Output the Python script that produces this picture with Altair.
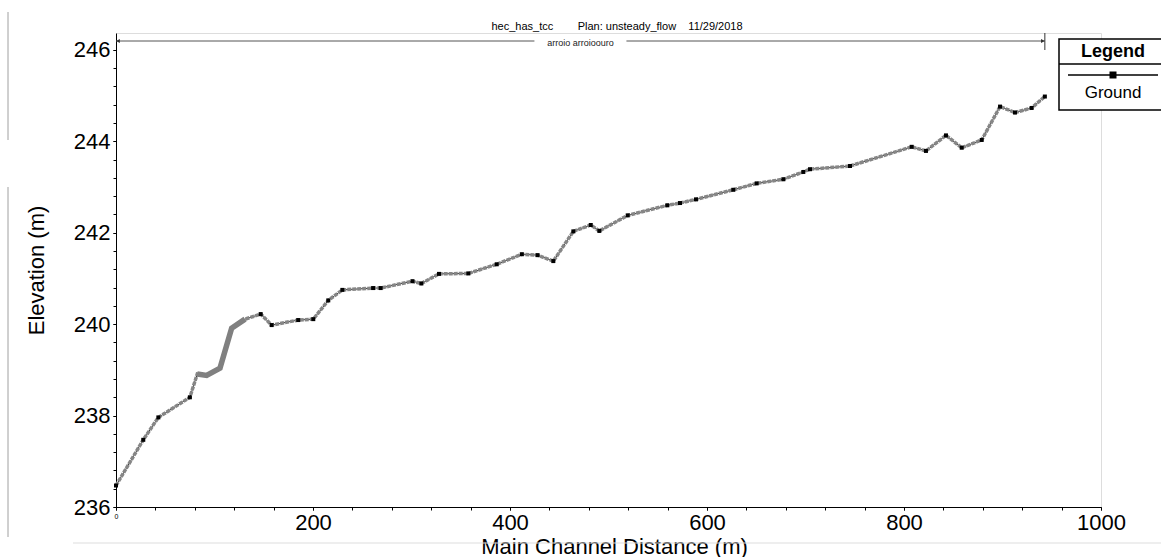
import altair as alt
import pandas as pd

# ---- data ----
distance = [0, 27.7, 43, 75, 82.5, 92, 105.6, 117.4, 131, 146.9, 158, 185, 200.3,
            215.5, 229.8, 261, 268.7, 301, 310, 327.9, 357.7, 386.5, 412, 428, 444,
            464.3, 482, 490.7, 519.5, 559.7, 572.6, 588.8, 626.7, 650.4, 677.5, 697.8,
            704.6, 745.2, 807.8, 822.3, 842.6, 858.6, 878.9, 897.5, 912.7, 929.6, 943]
elevation = [236.47, 237.47, 237.96, 238.40, 238.91, 238.88, 239.04, 239.91, 240.11,
             240.22, 239.98, 240.09, 240.11, 240.52, 240.75, 240.79, 240.79, 240.94,
             240.89, 241.10, 241.11, 241.31, 241.53, 241.51, 241.38, 242.03, 242.17,
             242.04, 242.38, 242.60, 242.65, 242.73, 242.94, 243.08, 243.17, 243.33,
             243.39, 243.46, 243.88, 243.79, 244.13, 243.86, 244.03, 244.76, 244.63,
             244.73, 244.98]
is_section = [1, 1, 1, 1, 0, 0, 0, 0, 0, 1, 1, 1, 1, 1, 1, 1, 1, 1, 1, 1, 1, 1, 1, 1, 1,
              1, 1, 1, 1, 1, 1, 1, 1, 1, 1, 1, 1, 1, 1, 1, 1, 1, 1, 1, 1, 1, 1]

x_major = [0, 200, 400, 600, 800, 1000]
y_major = [236, 238, 240, 242, 244, 246]
x_minor = [v * 40 for v in range(26)]
y_minor = [round(236 + v * 0.4, 1) for v in range(26)]

title_text = "hec_has_tcc\u00a0\u00a0\u00a0\u00a0\u00a0\u00a0\u00a0\u00a0Plan:\u00a0unsteady_flow\u00a0\u00a0\u00a0\u00a011/29/2018"
reach_label = "arroio arroioouro"
legend_title = "Legend"
series_name = "Ground"

FONT = "Liberation Sans"
W, H = 985, 474

df = pd.DataFrame({"distance": distance, "elevation": elevation, "section": is_section})
reach = pd.DataFrame({"start": [distance[0]], "end": [distance[-1]],
                      "mid": [(distance[0] + distance[-1]) / 2]})

xscale = alt.Scale(domain=[0, 1000], nice=False, zero=False)
yscale = alt.Scale(domain=[236, 246.37], nice=False, zero=False)

# major axes: labels + titles
x_axis_major = alt.Axis(
    orient="bottom", values=x_major, grid=False, tickSize=3, tickColor="black",
    domainColor="black", format="d",
    labelFontSize={"condition": {"test": "datum.value == 0", "value": 7}, "value": 22},
    labelFont=FONT, labelColor="black", labelPadding=2, labelFlush=False,
    labelOverlap=False,
    title="Main Channel Distance (m)", titleFont=FONT, titleFontSize=22,
    titleFontWeight="normal", titleColor="black", titleX=498, titleY=39,
    titleBaseline="middle",
)
y_axis_major = alt.Axis(
    orient="left", values=y_major, grid=False, tickSize=3, tickColor="black",
    domainColor="black", format="d",
    labelFontSize=22, labelFont=FONT, labelColor="black", labelPadding=3,
    labelFlush=False, labelOverlap=False,
    title="Elevation (m)", titleFont=FONT, titleFontSize=22, titleFontWeight="normal",
    titleColor="black", titleX=-80, titleY=237, titleBaseline="middle",
)
# minor tick axes: ticks only
x_axis_minor = alt.Axis(orient="bottom", values=x_minor, grid=False, tickSize=3,
                        tickColor="black", domain=False, labels=False, title=None)
y_axis_minor = alt.Axis(orient="left", values=y_minor, grid=False, tickSize=3,
                        tickColor="black", domain=False, labels=False, title=None)

base = alt.Chart(df)

thin = base.mark_line(color="#333333", strokeWidth=1).encode(
    x=alt.X("distance:Q", scale=xscale, axis=x_axis_major),
    y=alt.Y("elevation:Q", scale=yscale, axis=y_axis_major))
gray = base.mark_line(color="#868686", strokeWidth=3.5, strokeDash=[4, 1]).encode(
    x=alt.X("distance:Q", scale=xscale, axis=x_axis_minor),
    y=alt.Y("elevation:Q", scale=yscale, axis=y_axis_minor))
thick = base.transform_filter("datum.distance >= 82 && datum.distance <= 132").mark_line(
    color="#808080", strokeWidth=5.5).encode(
    x=alt.X("distance:Q", axis=None), y=alt.Y("elevation:Q", axis=None))
marks = base.transform_filter("datum.section == 1").mark_square(
    size=16, color="black", opacity=1).encode(
    x=alt.X("distance:Q", axis=None), y=alt.Y("elevation:Q", axis=None))

rb = alt.Chart(reach)
rule_left = rb.mark_rule(color="#555555", strokeWidth=1, x2Offset=-46).encode(
    x=alt.X("start:Q", axis=None), x2="mid:Q", y=alt.value(8))
rule_right = rb.mark_rule(color="#555555", strokeWidth=1, xOffset=46).encode(
    x=alt.X("mid:Q", axis=None), x2="end:Q", y=alt.value(8))
arrow_l = rb.mark_point(shape="triangle-left", filled=True, size=18, color="#333333",
                        xOffset=2, opacity=1).encode(
    x=alt.X("start:Q", axis=None), y=alt.value(8))
arrow_r = rb.mark_point(shape="triangle-right", filled=True, size=18, color="#333333",
                        xOffset=-2, opacity=1).encode(
    x=alt.X("end:Q", axis=None), y=alt.value(8))
end_tick = rb.mark_rule(color="#333333", strokeWidth=1).encode(
    x=alt.X("end:Q", axis=None), y=alt.value(0), y2=alt.value(17))
reach_txt = rb.mark_text(text=reach_label, font=FONT, fontSize=9, color="#222222",
                         baseline="middle").encode(
    x=alt.X("mid:Q", axis=None), y=alt.value(10))

# header text and legend box (pixel placed decorations)
leg = alt.Chart(pd.DataFrame({"t": [legend_title], "s": [series_name], "h": [title_text]}))
header = leg.mark_text(font=FONT, fontSize=11, color="black", baseline="middle").encode(
    text="h:N", x=alt.value(501), y=alt.value(-6))
leg_box = leg.mark_rect(fill="white", stroke="black", strokeWidth=1.5).encode(
    x=alt.value(943), x2=alt.value(1052), y=alt.value(6), y2=alt.value(77))
leg_sep = leg.mark_rule(color="black", strokeWidth=1.5).encode(
    x=alt.value(943), x2=alt.value(1052), y=alt.value(31))
leg_line = leg.mark_rule(color="black", strokeWidth=1.5).encode(
    x=alt.value(952), x2=alt.value(1042), y=alt.value(42))
leg_sym = leg.mark_square(size=49, color="black", opacity=1).encode(
    x=alt.value(997), y=alt.value(42))
leg_title = leg.mark_text(font=FONT, fontSize=18, fontWeight="bold", color="black",
                          baseline="middle").encode(
    text="t:N", x=alt.value(997), y=alt.value(19))
leg_label = leg.mark_text(font=FONT, fontSize=17, color="black", baseline="middle").encode(
    text="s:N", x=alt.value(997), y=alt.value(60))

# frame lines visible in the reference screenshot
frame_v1 = leg.mark_rule(color="#a0a0a0", strokeWidth=1).encode(
    x=alt.value(-108), y=alt.value(-21), y2=alt.value(107))
frame_v2 = leg.mark_rule(color="#a0a0a0", strokeWidth=1).encode(
    x=alt.value(-108), y=alt.value(154), y2=alt.value(504))
frame_h = leg.mark_rule(color="#dddddd", strokeWidth=1).encode(
    x=alt.value(-43), x2=alt.value(1045), y=alt.value(510))

chart = alt.layer(
    thin, gray, thick, marks,
    rule_left, rule_right, arrow_l, arrow_r, end_tick, reach_txt,
    header, leg_box, leg_sep, leg_line, leg_sym, leg_title, leg_label,
    frame_v1, frame_v2, frame_h,
).resolve_axis(x="independent", y="independent").properties(
    width=W, height=H,
    autosize=alt.AutoSizeParams(type="none"),
    padding={"left": 116, "top": 33, "right": 60, "bottom": 50},
).configure_view(stroke=None).configure_axis(labelOverlap=False).configure(background="white")

chart.save("out.html", embed_options={"renderer": "svg", "actions": False})
